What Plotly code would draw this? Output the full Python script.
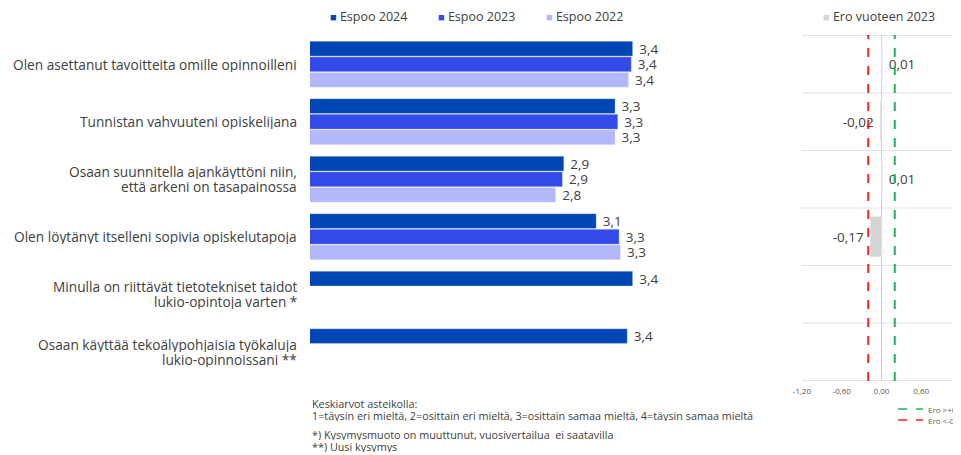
import plotly.graph_objects as go

categories = [
    "Olen asettanut tavoitteita omille opinnoilleni",
    "Tunnistan vahvuuteni opiskelijana",
    "Osaan suunnitella ajankäyttöni niin,<br>että arkeni on tasapainossa",
    "Olen löytänyt itselleni sopivia opiskelutapoja",
    "Minulla on riittävät tietotekniset taidot<br>lukio-opintoja varten *",
    "Osaan käyttää tekoälypohjaisia työkaluja<br>lukio-opinnoissani **",
]
espoo_2024 = [3.39, 3.26, 2.88, 3.12, 3.39, 3.35]
espoo_2023 = [3.38, 3.28, 2.87, 3.29, None, None]
espoo_2022 = [3.36, 3.26, 2.82, 3.30, None, None]
ero_2023 = [0.01, -0.02, 0.01, -0.17, None, None]
series_names = ["Espoo 2024", "Espoo 2023", "Espoo 2022"]
ero_name = "Ero vuoteen 2023"
threshold_pos = 0.2
threshold_neg = -0.2
threshold_names = ["Ero >+0,2", "Ero <-0,2"]
right_ticks = [-1.2, -0.6, 0.0, 0.6, 1.2]
footnote_lines = [
    "Keskiarvot asteikolla:",
    "1=täysin eri mieltä, 2=osittain eri mieltä, 3=osittain samaa mieltä, 4=täysin samaa mieltä",
    "*) Kysymysmuoto on muuttunut, vuosivertailua  ei saatavilla",
    "**) Uusi kysymys",
]

FONT = "Open Sans"
TXT = "#404040"
colors = ["#0046B4", "#3349E8", "#B2B8FA"]
ero_color = "#D4D4D4"
green = "#1FB35A"
red = "#FF2020"

# page body has an 8px margin: work in reference pixels and shift by OFF
OFF = 8
W, H = 961 - OFF, 455 - OFF
PLOT_TOP, PLOT_BOT = 35 - OFF, 381 - OFF

def fx(px):
    return (px - OFF) / W

def fy_paper(py):
    return (PLOT_BOT - (py - OFF)) / (PLOT_BOT - PLOT_TOP)

def fmt(v, d):
    if v is None:
        return ""
    return f"{v:.{d}f}".replace(".", ",")

fig = go.Figure()
for name, vals, col in zip(series_names, [espoo_2024, espoo_2023, espoo_2022], colors):
    fig.add_trace(go.Bar(
        name=name, y=categories, x=vals, orientation="h",
        marker=dict(color=col, line=dict(color="rgba(255,255,255,0.6)", width=0.5)),
        text=[(" " + fmt(v, 1)) if v is not None else "" for v in vals],
        textposition="outside", constraintext="none",
        textfont=dict(family=FONT, size=13.5, color=TXT),
        cliponaxis=False, showlegend=False,
        xaxis="x", yaxis="y",
    ))

ero_text = []
for v in ero_2023:
    if v is None:
        ero_text.append("")
    elif v >= 0:
        ero_text.append(" " + fmt(v, 2))
    else:
        ero_text.append(fmt(v, 2) + " ")
fig.add_trace(go.Bar(
    name=ero_name, y=categories, x=ero_2023, orientation="h",
    marker=dict(color=ero_color), width=0.7,
    text=ero_text, textposition="outside", constraintext="none",
    textfont=dict(family=FONT, size=13.5, color=TXT),
    cliponaxis=False, showlegend=False,
    xaxis="x2", yaxis="y2",
))

shapes = []
for i in range(len(categories) + 1):
    shapes.append(dict(type="line", xref="x2 domain", yref="y2", x0=0, x1=1,
                       y0=i - 0.5, y1=i - 0.5, line=dict(color="#E3E3E3", width=1), layer="below"))
shapes.append(dict(type="line", xref="x2", yref="y2 domain", x0=0, x1=0, y0=0, y1=1,
                   line=dict(color="#D0D0D0", width=1), layer="below"))
shapes.append(dict(type="line", xref="x2", yref="y2 domain", x0=threshold_pos, x1=threshold_pos, y0=0, y1=1,
                   line=dict(color=green, width=2, dash="dash")))
shapes.append(dict(type="line", xref="x2", yref="y2 domain", x0=threshold_neg, x1=threshold_neg, y0=0, y1=1,
                   line=dict(color=red, width=2, dash="dash")))

annotations = []
LINE_H = 15
for c in categories:
    lines = c.split("<br>")
    n = len(lines)
    for k, ln in enumerate(lines):
        shift = ((n - 1) / 2 - k) * LINE_H
        annotations.append(dict(xref="paper", yref="y", x=fx(298), y=c, yshift=shift, text=ln,
                                showarrow=False, xanchor="right", yanchor="middle", align="center",
                                height=LINE_H, valign="middle", borderpad=0,
                                font=dict(family=FONT, size=13.7, color=TXT)))

# header legend items (square marker + label)
legend_items = [(series_names[0], colors[0], 329), (series_names[1], colors[1], 437),
                (series_names[2], colors[2], 545), (ero_name, ero_color, 822)]
for name, col, px in legend_items:
    annotations.append(dict(xref="paper", yref="paper", x=fx(px), y=fy_paper(16), borderpad=0,
                            text=f'<span style="color:{col}; font-size:11px">■</span> {name}',
                            showarrow=False, xanchor="left", yanchor="middle", align="left",
                            font=dict(family=FONT, size=12.5, color=TXT)))

# threshold line key (bottom right)
for name, col, py in [(threshold_names[0], green, 409), (threshold_names[1], red, 420)]:
    shapes.append(dict(type="line", xref="paper", yref="paper", x0=fx(898), x1=fx(923),
                       y0=fy_paper(py), y1=fy_paper(py), line=dict(color=col, width=1.5, dash="dash")))
    annotations.append(dict(xref="paper", yref="paper", x=fx(927), y=fy_paper(py), text=name,
                            showarrow=False, xanchor="left", yanchor="middle", align="left", borderpad=0,
                            font=dict(family=FONT, size=8, color="#595959")))

foot_y = [403, 415, 434, 446]
for ln, py in zip(footnote_lines, foot_y):
    annotations.append(dict(xref="paper", yref="paper", x=fx(311), y=fy_paper(py), text=ln,
                            showarrow=False, xanchor="left", yanchor="middle", align="left",
                            height=12, valign="middle", borderpad=0,
                            font=dict(family=FONT, size=10.8, color=TXT)))

fig.update_layout(
    width=W, height=H,
    margin=dict(l=0, r=0, t=PLOT_TOP, b=H - PLOT_BOT, autoexpand=False),
    paper_bgcolor="white", plot_bgcolor="white",
    barmode="group", bargap=0.185, bargroupgap=0.05,
    font=dict(family=FONT, color=TXT),
    xaxis=dict(domain=[fx(310), fx(715)], range=[1, 4], showgrid=False, showticklabels=False,
               zeroline=False, showline=False, ticks=""),
    yaxis=dict(autorange="reversed", showticklabels=False, showgrid=False, zeroline=False, ticks=""),
    xaxis2=dict(domain=[fx(802), 1.0], range=[-1.2, 1.2], anchor="y2", showgrid=False, zeroline=False,
                tickvals=right_ticks, ticktext=[fmt(v, 2) for v in right_ticks],
                tickfont=dict(family=FONT, size=8, color="#595959"), showline=False, ticks="",
                ticklabelstandoff=4),
    yaxis2=dict(matches="y", anchor="x2", showticklabels=False, showgrid=False, zeroline=False, ticks=""),
    shapes=shapes, annotations=annotations,
    showlegend=False,
)

fig.write_html("out.html")
